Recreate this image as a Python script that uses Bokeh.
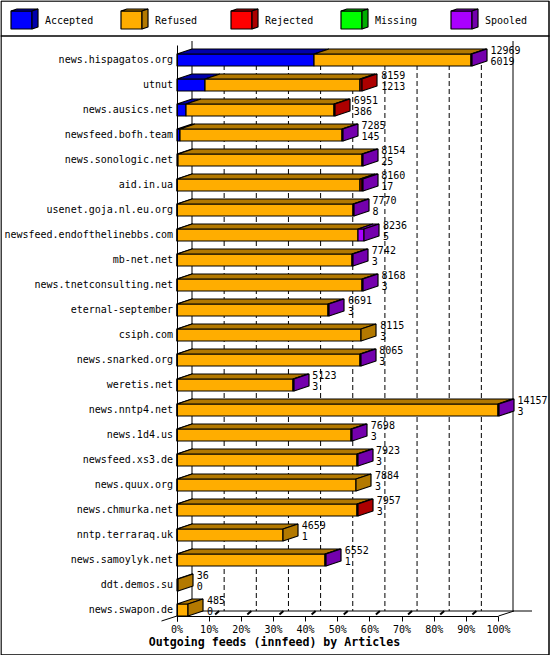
from bokeh.plotting import figure
from bokeh.models import Range1d, LinearAxis, FixedTicker, PrintfTickFormatter
from bokeh.core.properties import value
from bokeh.embed import file_html
from bokeh.resources import INLINE

categories = ["news.hispagatos.org", "utnut", "news.ausics.net", "newsfeed.bofh.team",
              "news.sonologic.net", "aid.in.ua", "usenet.goja.nl.eu.org",
              "newsfeed.endofthelinebbs.com", "mb-net.net", "news.tnetconsulting.net",
              "eternal-september", "csiph.com", "news.snarked.org", "weretis.net",
              "news.nntp4.net", "news.1d4.us", "newsfeed.xs3.de", "news.quux.org",
              "news.chmurka.net", "nntp.terraraq.uk", "news.samoylyk.net",
              "ddt.demos.su", "news.swapon.de"]
totals = [12969, 8159, 6951, 7285, 8154, 8160, 7770, 8236, 7742, 8168, 6691, 8115,
          8065, 5123, 14157, 7698, 7923, 7884, 7957, 4659, 6552, 36, 485]
accepted = [6019, 1213, 386, 145, 25, 17, 8, 5, 3, 3, 3, 3, 3, 3, 3, 3, 3, 3, 3, 1, 1, 0, 0]
refused = [6920, 6836, 6535, 7120, 8114, 8038, 7742, 7986, 7699, 8150, 6668, 8112,
           8047, 5105, 14129, 7680, 7905, 7881, 7924, 4658, 6536, 36, 485]
rejected = [0, 110, 30, 0, 0, 90, 0, 0, 0, 0, 0, 0, 0, 0, 0, 0, 0, 0, 30, 0, 0, 0, 0]
missing = [0] * 23
spooled = [30, 0, 0, 20, 15, 15, 20, 245, 40, 15, 20, 0, 15, 15, 25, 15, 15, 0, 0, 0, 15, 0, 0]
series_names = ["Accepted", "Refused", "Rejected", "Missing", "Spooled"]
front_colors = ["#0000ff", "#ffad00", "#ff0000", "#00ff00", "#aa00ff"]
dark_colors = ["#0000ad", "#b37900", "#ad0000", "#00ad00", "#7400ad"]
tick_pcts = [0, 10, 20, 30, 40, 50, 60, 70, 80, 90, 100]
title_text = "Outgoing feeds (innfeed) by Articles"

X0, SX = 176.5, 3.215     # pixel of 0%, pixels per percent
Y0, SY = 59.5, 25.0       # pixel of first row, pixels per row
DX, DY = 15.0, 5.0        # 3D depth in pixels
HALF = 6.0
FONT = value("DejaVu Sans Mono")
max_total = max(totals)


def pct(v):
    return 100.0 * v / max_total


def snap(p):
    return (round(X0 + SX * p - 0.5) + 0.5 - X0) / SX


p = figure(width=550, height=655, output_backend="svg", toolbar_location=None,
           x_range=Range1d(-X0 / SX, (550 - X0) / SX),
           y_range=Range1d((655 - Y0) / SY, -Y0 / SY),
           min_border=0, min_border_left=0, min_border_right=0,
           min_border_top=0, min_border_bottom=0,
           x_axis_type=None, y_axis_type=None, outline_line_color=None)
p.xgrid.visible = False
p.ygrid.visible = False
p.extra_x_ranges["px"] = Range1d(0, 550)
p.extra_y_ranges["px"] = Range1d(655, 0)
px = dict(x_range_name="px", y_range_name="px")

# page frame and legend separator
p.multi_line([[0.5, 0.5, 548.5, 548.5, 0.5], [0, 549]],
             [[0.5, 654.5, 654.5, 0.5, 0.5], [35.5, 35.5]], line_color="black", line_width=1.5, **px)

# back wall
ddx = DX / SX
ddy = DY / SY
top_px, floor_px = (48.5 - Y0) / SY, (610.5 - Y0) / SY
p.segment([t + ddx for t in tick_pcts[1:-1]], [top_px] * 9,
          [t + ddx for t in tick_pcts[1:-1]], [floor_px] * 9,
          line_color="black", line_width=1, line_dash="5 3")
p.segment([snap(t + ddx) for t in (0, 100)], [(40.5 - Y0) / SY] * 2,
          [snap(t + ddx) for t in (0, 100)], [floor_px] * 2, line_color="black", line_width=1)

# floor
p.multi_line([[191.5, 531.5], [161, 176.5], [498, 513.5]],
             [[610.5, 610.5], [620.5, 615.5], [615.5, 610.5]], line_color="black", line_width=1, **px)
p.segment([t + 6 / SX for t in tick_pcts[1:-1]], [(614 - Y0) / SY] * 9,
          [t + 10 / SX for t in tick_pcts[1:-1]], [(610.5 - Y0) / SY] * 9,
          line_color="black", line_width=2)

# stacked 3D bars
xs, ys, fills = [], [], []
h = HALF / SY
for i in range(len(categories)):
    start = 0.0
    last = None
    stack = [accepted[i], refused[i], rejected[i], missing[i], spooled[i]]
    for s, v in enumerate(stack):
        if v <= 0:
            continue
        a, b = snap(pct(start)), snap(pct(start + v))
        if b <= a:
            b = a + 1 / SX
        xs.append([a, b, b, a]); ys.append([i - h, i - h, i + h, i + h]); fills.append(front_colors[s])
        xs.append([a, b, b + ddx, a + ddx]); ys.append([i - h, i - h, i - h - ddy, i - h - ddy]); fills.append(dark_colors[s])
        start += v
        last = (b, s)
    b, s = last
    xs.append([b, b + ddx, b + ddx, b]); ys.append([i - h, i - h - ddy, i + h - ddy, i + h]); fills.append(dark_colors[s])
p.patches(xs, ys, fill_color=fills, line_color="black", line_width=1.2)

# value labels
ends = [pct(v) for v in totals]
rows = list(range(len(categories)))
p.text(ends, rows, text=[str(v) for v in totals], x_offset=19, y_offset=-10,
       text_font=FONT, text_font_size="10px", text_baseline="middle", text_color="black")
p.text(ends, rows, text=[str(v) for v in accepted], x_offset=19, y_offset=1,
       text_font=FONT, text_font_size="10px", text_baseline="middle", text_color="black")

# legend
for k, name in enumerate(series_names):
    x = 10.5 + 110 * k
    x2, y1, y2 = x + 21, 10.5, 28.5
    p.patches([[x, x2, x2, x], [x, x2, x2 + 6, x + 6], [x2, x2 + 6, x2 + 6, x2]],
              [[y1, y1, y2, y2], [y1, y1, y1 - 2, y1 - 2], [y1, y1 - 2, y2 - 2, y2]],
              fill_color=[front_colors[k], dark_colors[k], dark_colors[k]],
              line_color="black", line_width=1.2, **px)
    p.text([x + 34], [20], text=[name], text_font=FONT, text_font_size="10px",
           text_baseline="middle", text_color="black", **px)

# title
p.text([274], [641.5], text=[title_text], text_font=FONT, text_font_size="11.6px",
       text_font_style="bold", text_align="center", text_baseline="middle",
       text_color="black", **px)

# axes
xaxis = LinearAxis(fixed_location=(615.5 - Y0) / SY, bounds=(0, 100),
                   ticker=FixedTicker(ticks=tick_pcts),
                   formatter=PrintfTickFormatter(format="%d%%"),
                   axis_line_color="black", major_tick_line_color="black",
                   major_tick_in=0, major_tick_out=5, minor_tick_line_color=None,
                   major_label_text_font="DejaVu Sans Mono", major_label_text_font_size="10px",
                   major_label_text_color="black", major_label_standoff=3)
p.add_layout(xaxis, "below")
label_shift = 1.0 / SY
yaxis = LinearAxis(fixed_location=0, bounds=((45 - Y0) / SY, (620.5 - Y0) / SY),
                   ticker=FixedTicker(ticks=[r - label_shift for r in rows]),
                   major_label_overrides={r - label_shift: c for r, c in zip(rows, categories)},
                   axis_line_color="black", major_tick_line_color=None, minor_tick_line_color=None,
                   major_tick_in=0, major_tick_out=0,
                   major_label_text_font="DejaVu Sans Mono", major_label_text_font_size="10px",
                   major_label_text_color="black", major_label_standoff=4)
p.add_layout(yaxis, "left")

open("out.html", "w").write(file_html(p, INLINE))
